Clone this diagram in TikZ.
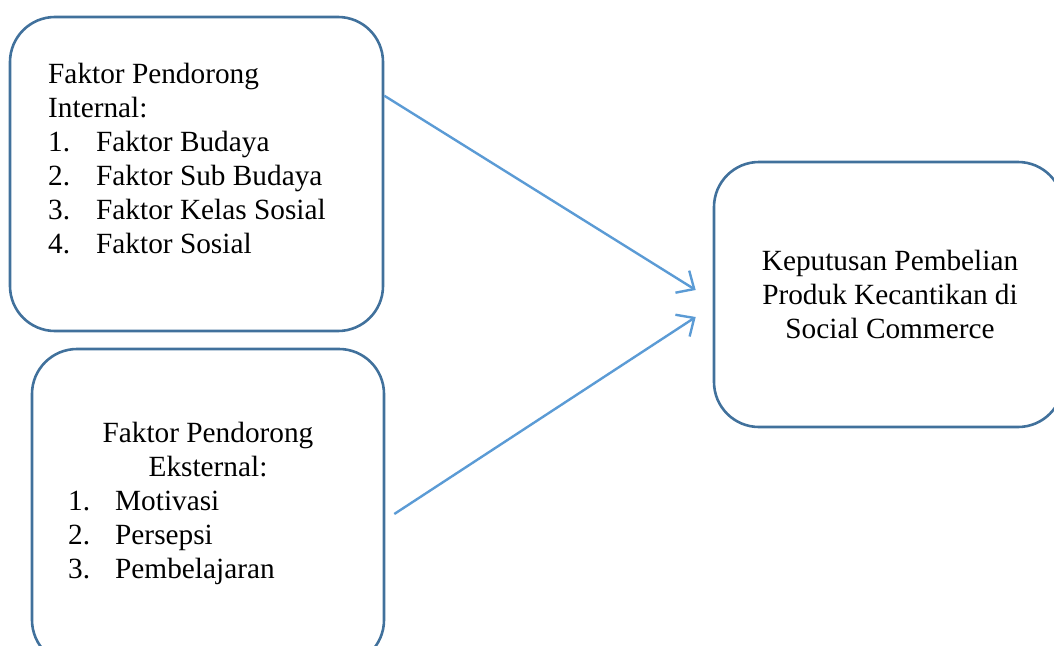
\documentclass[tikz,border=0pt]{standalone}
\usepackage{fontspec}
\setmainfont{Liberation Serif}
\usetikzlibrary{arrows.meta,positioning}

\definecolor{boxline}{HTML}{41719C}
\definecolor{arrline}{HTML}{5B9BD5}

\tikzset{
  factorbox/.style={draw=boxline,line width=2.6pt,rounded corners=45pt,inner sep=0pt},
  factortext/.style={inner sep=0pt,font=\fontsize{29.3}{34}\selectfont},
  linkarrow/.style={draw=arrline,line width=2.4pt,-{Straight Barb[length=14pt,width=26pt,line width=2.4pt]}}
}

\begin{document}
\begin{tikzpicture}[x=1pt,y=1pt]
  % fix the size of the page, origin at the top left
  \useasboundingbox (0,0) rectangle (1054,-645);

  % the three rounded boxes
  \node[factorbox,minimum width=373pt,minimum height=314pt] (intbox) at (196.5,-174) {};
  \node[factorbox,minimum width=352pt,minimum height=316pt] (eksbox) at (208,-507) {};
  \node[factorbox,minimum width=349pt,minimum height=265pt] (kepbox) at (888.5,-294.5) {};

  % internal factors, left aligned
  \node[factortext,anchor=base west] (inttext) at (48,-83) {%
    \begin{tabular}[t]{@{}l@{}}
      Faktor Pendorong\\
      Internal:\\
      \makebox[48pt][l]{1.}Faktor Budaya\\
      \makebox[48pt][l]{2.}Faktor Sub Budaya\\
      \makebox[48pt][l]{3.}Faktor Kelas Sosial\\
      \makebox[48pt][l]{4.}Faktor Sosial
    \end{tabular}};

  % external factors, centred heading then the list
  \node[factortext,anchor=base] (ekshead) at (208,-442) {%
    \begin{tabular}[t]{@{}c@{}}
      Faktor Pendorong\\
      Eksternal:
    \end{tabular}};
  \node[factortext,anchor=base west] (ekslist) at (68,-510) {%
    \begin{tabular}[t]{@{}l@{}}
      \makebox[47pt][l]{1.}Motivasi\\
      \makebox[47pt][l]{2.}Persepsi\\
      \makebox[47pt][l]{3.}Pembelajaran
    \end{tabular}};

  % decision box text
  \node[factortext,anchor=base] (keptext) at (890,-270) {%
    \begin{tabular}[t]{@{}c@{}}
      Keputusan Pembelian\\
      Produk Kecantikan di\\
      Social Commerce
    \end{tabular}};

  % arrows into the decision box
  \draw[linkarrow] ([yshift=-80pt]intbox.north east) -- ([xshift=-17pt,yshift=4.5pt]kepbox.west);
  \draw[linkarrow] ([xshift=9pt,yshift=-7pt]eksbox.east) -- ([xshift=-17pt,yshift=-22.5pt]kepbox.west);
\end{tikzpicture}
\end{document}
